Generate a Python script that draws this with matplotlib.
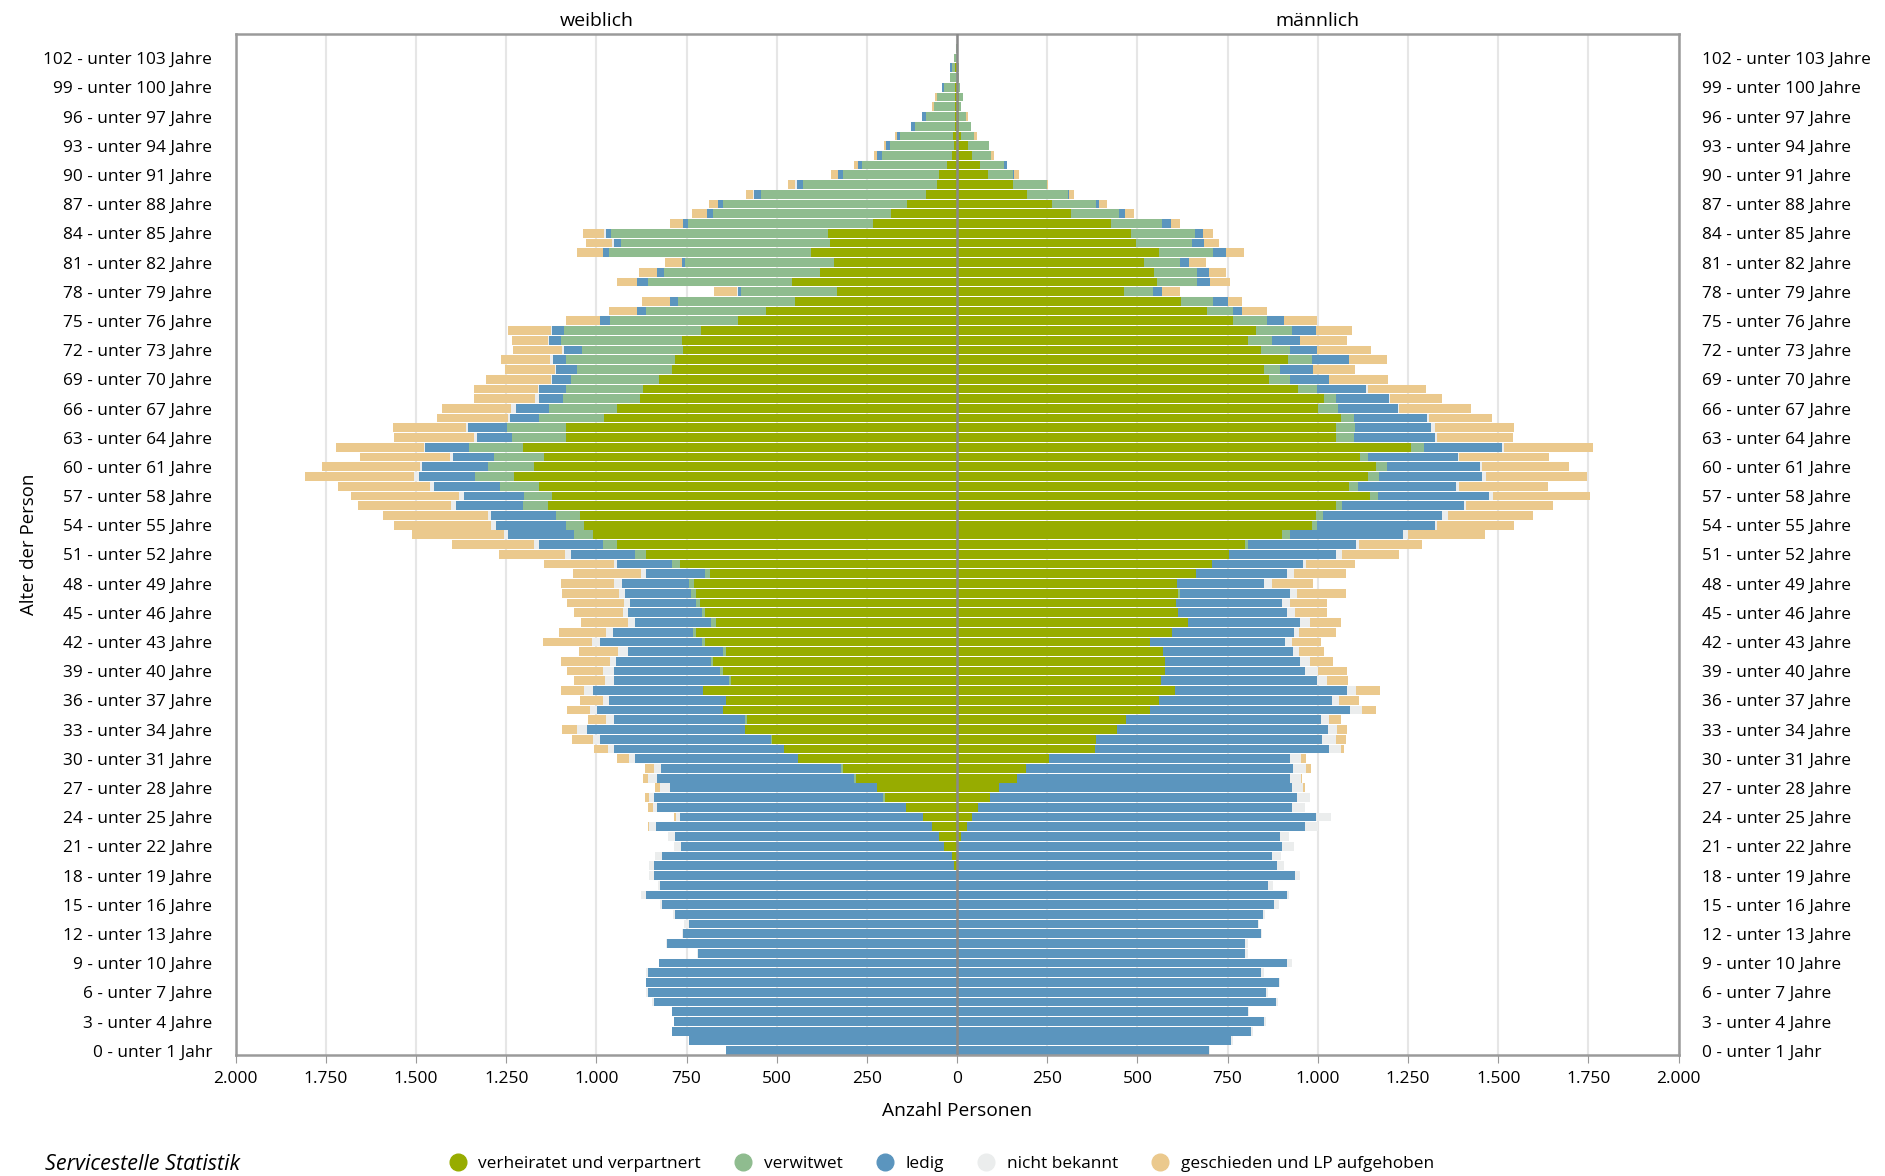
import matplotlib
matplotlib.use('Agg')
import matplotlib.pyplot as plt
from matplotlib.lines import Line2D
import numpy as np

plt.rcParams['font.family'] = ['Open Sans', 'DejaVu Sans']

# Alter 0 .. 104
ages = list(range(105))

# Frauen (weiblich), je Familienstand, Alter 0..104
f_verheiratet = [0, 0, 0, 0, 0, 0, 0, 0, 0, 0, 0, 0, 0, 0, 0, 0, 0, 0, 0, 9,
                 14, 37, 51, 69, 95, 142, 200, 222, 281, 317, 442, 481, 512, 588, 582, 650, 641, 705, 626, 649,
                 677, 641, 700, 724, 669, 700, 714, 724, 729, 686, 769, 863, 944, 1010, 1035, 1044, 1135, 1124, 1160, 1227,
                 1173, 1144, 1204, 1085, 1085, 979, 944, 879, 872, 827, 791, 783, 760, 763, 710, 608, 531, 449, 333, 459,
                 381, 340, 405, 353, 359, 233, 183, 140, 87, 56, 51, 28, 14, 9, 12, 5, 5, 5, 5, 5,
                 1, 5, 1, 0, 0]
f_verwitwet = [0, 0, 0, 0, 0, 0, 0, 0, 0, 0, 0, 0, 0, 0, 0, 0, 0, 0, 0, 0,
               0, 0, 0, 0, 0, 0, 6, 0, 4, 6, 0, 0, 5, 0, 5, 0, 0, 0, 6, 8,
               4, 9, 8, 9, 12, 8, 10, 14, 14, 14, 22, 31, 38, 53, 50, 69, 69, 77, 108, 110,
               128, 141, 150, 150, 164, 181, 188, 214, 213, 244, 263, 301, 281, 336, 381, 355, 332, 324, 267, 399,
               432, 413, 560, 579, 601, 514, 494, 510, 458, 372, 265, 236, 195, 178, 146, 113, 82, 60, 51, 32,
               20, 9, 8, 2, 1]
f_ledig = [641, 744, 791, 786, 791, 841, 858, 863, 858, 827, 718, 803, 760, 744, 783, 819, 863, 824, 841, 832,
           805, 729, 732, 767, 672, 690, 635, 574, 547, 499, 451, 471, 474, 438, 363, 349, 324, 303, 318, 294,
           265, 263, 283, 222, 213, 205, 183, 183, 186, 163, 153, 177, 178, 183, 192, 179, 186, 167, 181, 155,
           183, 112, 122, 95, 108, 79, 91, 67, 73, 51, 59, 36, 50, 31, 33, 26, 24, 23, 6, 28,
           18, 10, 17, 19, 14, 13, 17, 14, 17, 17, 14, 12, 12, 10, 9, 10, 10, 0, 0, 5,
           0, 6, 0, 0, 0]
f_nicht_bekannt = [0, 0, 0, 0, 0, 5, 5, 0, 5, 0, 4, 5, 3, 12, 5, 5, 12, 5, 12, 12,
                   19, 19, 19, 19, 13, 12, 14, 28, 26, 19, 17, 17, 19, 27, 23, 19, 17, 27, 26, 31,
                   17, 26, 22, 19, 17, 12, 17, 17, 22, 14, 8, 17, 13, 10, 15, 9, 12, 12, 13, 13,
                   5, 8, 3, 8, 3, 6, 13, 10, 3, 3, 3, 9, 3, 3, 1, 0, 0, 0, 4, 0,
                   1, 0, 0, 6, 5, 0, 0, 0, 5, 4, 0, 0, 0, 0, 0, 0, 0, 0, 0, 0,
                   0, 0, 0, 0, 0]
f_geschieden = [0, 0, 0, 0, 0, 0, 0, 0, 0, 0, 0, 0, 0, 0, 0, 0, 0, 0, 0, 0,
                0, 0, 0, 3, 6, 12, 10, 14, 12, 24, 33, 37, 58, 42, 50, 64, 64, 64, 86, 100,
                136, 108, 136, 129, 131, 136, 158, 158, 147, 188, 192, 181, 226, 255, 269, 291, 258, 301, 255, 304,
                272, 250, 242, 224, 205, 196, 192, 169, 179, 182, 136, 136, 136, 100, 121, 95, 77, 77, 64, 58,
                50, 47, 72, 72, 59, 36, 42, 24, 19, 21, 19, 10, 10, 5, 6, 0, 0, 5, 5, 0,
                0, 0, 0, 0, 0]

# Maenner (maennlich), je Familienstand, Alter 0..104
m_verheiratet = [0, 0, 0, 0, 0, 0, 0, 0, 0, 0, 0, 0, 0, 0, 0, 0, 0, 0, 0, 0,
                 2, 3, 12, 28, 42, 58, 91, 117, 166, 192, 256, 382, 386, 443, 469, 536, 559, 604, 564, 576,
                 576, 571, 536, 595, 641, 612, 608, 612, 609, 661, 707, 753, 798, 901, 985, 996, 1049, 1144, 1087, 1138,
                 1161, 1116, 1257, 1051, 1049, 1063, 1001, 1018, 946, 865, 851, 918, 843, 807, 829, 765, 693, 621, 463, 554,
                 546, 518, 559, 496, 482, 427, 315, 262, 193, 154, 87, 64, 40, 31, 12, 6, 5, 4, 5, 3,
                 2, 3, 0, 0, 0]
m_verwitwet = [0, 0, 0, 0, 0, 0, 0, 0, 0, 0, 0, 0, 0, 0, 0, 0, 0, 0, 0, 0,
               0, 0, 0, 0, 0, 0, 0, 0, 0, 0, 0, 0, 0, 0, 0, 0, 0, 0, 0, 0,
               0, 0, 0, 0, 0, 0, 0, 6, 0, 0, 0, 0, 9, 21, 12, 17, 17, 24, 23, 31,
               30, 22, 36, 48, 53, 36, 55, 33, 53, 59, 45, 67, 81, 67, 98, 93, 72, 89, 80, 112,
               120, 100, 150, 156, 177, 141, 134, 122, 114, 94, 67, 67, 55, 58, 36, 32, 20, 8, 12, 6,
               2, 2, 3, 1, 1]
m_ledig = [697, 760, 815, 851, 805, 884, 857, 893, 843, 915, 798, 798, 843, 834, 848, 879, 915, 862, 938, 888,
           870, 898, 882, 937, 954, 871, 852, 812, 758, 738, 666, 648, 626, 584, 539, 554, 479, 476, 434, 389,
           375, 359, 374, 339, 310, 303, 293, 306, 242, 253, 253, 296, 299, 314, 328, 330, 339, 306, 272, 287,
           258, 251, 217, 225, 211, 203, 165, 145, 134, 108, 90, 100, 75, 76, 69, 48, 26, 40, 26, 36,
           31, 24, 36, 32, 24, 24, 17, 10, 3, 0, 5, 6, 0, 0, 0, 0, 0, 0, 0, 0,
           0, 0, 0, 0, 0]
m_nicht_bekannt = [3, 4, 4, 4, 4, 6, 5, 2, 8, 12, 9, 9, 3, 4, 6, 12, 6, 14, 12, 19,
                   27, 33, 27, 36, 41, 36, 35, 31, 30, 36, 32, 33, 39, 27, 22, 33, 22, 27, 28, 36,
                   26, 17, 19, 15, 26, 23, 23, 17, 23, 21, 8, 17, 9, 14, 5, 17, 5, 12, 8, 10,
                   6, 3, 5, 5, 12, 5, 5, 3, 5, 0, 0, 0, 0, 0, 0, 0, 0, 0, 0, 0,
                   0, 0, 0, 0, 0, 0, 0, 0, 0, 0, 0, 0, 0, 0, 0, 0, 0, 0, 0, 0,
                   0, 0, 0, 0, 0]
m_geschieden = [0, 0, 0, 0, 0, 0, 0, 0, 0, 0, 0, 0, 0, 0, 0, 0, 0, 0, 0, 0,
                0, 0, 0, 0, 0, 0, 1, 5, 3, 14, 14, 10, 26, 28, 33, 37, 55, 64, 58, 81,
                64, 69, 81, 100, 86, 86, 100, 136, 113, 144, 136, 158, 175, 213, 215, 237, 242, 269, 248, 279,
                242, 248, 248, 212, 220, 175, 198, 144, 162, 162, 116, 108, 148, 130, 100, 91, 69, 41, 48, 55,
                49, 48, 50, 42, 27, 26, 24, 21, 14, 5, 12, 0, 6, 0, 6, 0, 5, 0, 0, 0,
                0, 0, 0, 0, 0]

categories = ['verheiratet und verpartnert', 'verwitwet', 'ledig',
              'nicht bekannt', 'geschieden und LP aufgehoben']
colors = ['#97ac00', '#8fbc8f', '#5b95be', '#ebeded', '#ebc98d']

female = [f_verheiratet, f_verwitwet, f_ledig, f_nicht_bekannt, f_geschieden]
male = [m_verheiratet, m_verwitwet, m_ledig, m_nicht_bekannt, m_geschieden]

fig = plt.figure(figsize=(18.85, 11.76), dpi=100)
ax = fig.add_axes([0.125, 0.1025, 0.7655, 0.8688])

y = np.array(ages)

# gridlines behind bars
for v in range(-2000, 2001, 250):
    ax.axvline(v, color='#e6e6e6', linewidth=1.5, zorder=0)

left_f = np.zeros(len(ages))
left_m = np.zeros(len(ages))
for vals_f, vals_m, col in zip(female, male, colors):
    vf = np.array(vals_f, dtype=float)
    vm = np.array(vals_m, dtype=float)
    ax.barh(y, -vf, left=-left_f, height=0.9, color=col, linewidth=0, zorder=2)
    ax.barh(y, vm, left=left_m, height=0.9, color=col, linewidth=0, zorder=2)
    left_f += vf
    left_m += vm

ax.axvline(0, color='#8a8a8a', linewidth=1.8, zorder=3)

ax.set_xlim(-2000, 2000)
ax.set_ylim(-0.5, 104.5)

xt = list(range(-2000, 2001, 250))
ax.set_xticks(xt)
ax.set_xticklabels([f"{abs(v):,}".replace(',', '.') for v in xt], fontsize=12.5)
ax.tick_params(axis='x', length=6, color='#999999', pad=5)

yt = list(range(0, 103, 3))
ylabels = ['0 - unter 1 Jahr' if a == 0 else f'{a} - unter {a + 1} Jahre' for a in yt]
ax.set_yticks(yt)
ax.set_yticklabels(ylabels, fontsize=12.4)
ax.tick_params(axis='y', length=0, pad=17, labelright=True, right=False)

for s in ax.spines.values():
    s.set_color('#9a9a9a')
    s.set_linewidth(1.8)

ax.set_xlabel('Anzahl Personen', fontsize=13.8, labelpad=11)
ax.set_ylabel('Alter der Person', fontsize=13.4, labelpad=4)

ax.text(-1000, 1.004, 'weiblich', transform=ax.get_xaxis_transform(),
        ha='center', va='bottom', fontsize=14)
ax.text(1000, 1.004, 'männlich', transform=ax.get_xaxis_transform(),
        ha='center', va='bottom', fontsize=14)

handles = [Line2D([0], [0], marker='o', linestyle='none', markersize=12,
                  markerfacecolor=c, markeredgecolor=c) for c in colors]
fig.legend(handles, categories, loc='center', bbox_to_anchor=(0.4995, 0.0105),
           ncol=5, frameon=False, fontsize=12.4, handlelength=1.0,
           handletextpad=0.7, columnspacing=1.95)

fig.text(0.024, 0.001, 'Servicestelle Statistik', fontsize=15.5, style='italic',
         ha='left', va='bottom')

fig.savefig('out.png', dpi=100)
